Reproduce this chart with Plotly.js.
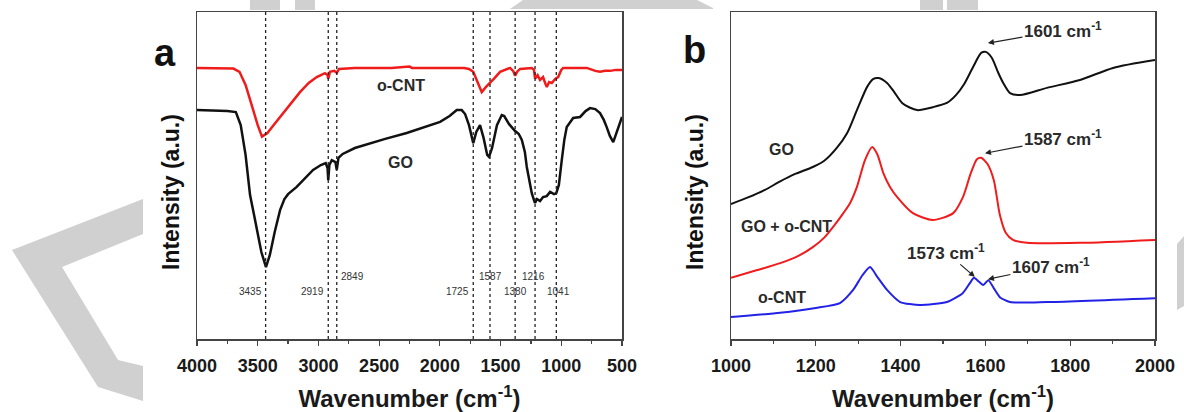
<!DOCTYPE html>
<html><head><meta charset="utf-8">
<script src="https://cdn.plot.ly/plotly-3.0.1.min.js"></script>
<style>html,body{margin:0;padding:0;background:#fff;}#chart{width:1184px;height:412px;}</style>
</head><body><div id="chart"></div>
<script>
// ---------- Panel a: FTIR ----------
const ftirWn_oCNT = [4000,3800,3700,3650,3600,3550,3500,3465,3420,3370,3292,3220,3152,3080,3014,2946,2925,2919,2905,2870,2849,2830,2700,2400,2250,2230,2000,1800,1760,1725,1690,1655,1620,1587,1550,1504,1460,1422,1395,1380,1360,1339,1243,1225,1216,1195,1175,1150,1130,1119,1100,1078,1050,1026,1000,985,900,790,720,681,640,598,550,500];
const ftirInt_oCNT = [82.9,82.9,82.7,81.7,77.7,71.6,65.4,61.9,63.0,65.4,69.1,72.5,75.5,78.3,80.1,81.3,80.7,79.6,81.7,82.0,81.4,82.6,82.9,82.9,83.3,82.9,82.9,82.9,82.6,81.7,78.6,75.5,77.1,78.3,79.8,81.7,82.3,82.9,81.9,80.5,81.9,82.6,82.9,82.3,79.6,80.7,79.2,80.1,78.0,77.1,78.6,78.3,79.5,80.1,82.3,82.9,82.9,82.9,82.0,81.7,82.0,82.0,82.3,82.3];
const ftirWn_GO = [4000,3850,3750,3680,3640,3600,3563,3530,3500,3470,3432,3400,3360,3316,3280,3250,3179,3100,3044,2980,2940,2925,2919,2910,2890,2860,2849,2835,2800,2700,2600,2450,2273,2150,1998,1920,1861,1820,1792,1760,1725,1700,1669,1640,1610,1595,1570,1530,1490,1470,1430,1380,1350,1325,1300,1284,1260,1243,1225,1216,1200,1175,1150,1120,1092,1060,1041,1020,996,975,955,902,845,800,763,720,681,650,626,600,572,550,531,500];
const ftirInt_GO = [70.0,69.9,69.7,69.4,65.4,56.3,44.0,37.9,32.7,26.6,22.0,25.7,32.7,39.4,42.8,44.3,46.5,49.5,51.7,53.2,53.8,52.3,48.6,53.2,54.7,54.1,51.7,55.4,56.6,58.4,59.6,61.2,63.0,64.5,66.4,68.2,70.0,70.0,68.8,65.4,59.9,63.3,65.4,61.5,56.3,55.7,58.4,65.4,68.5,68.2,65.7,63.6,62.7,60.9,57.2,52.6,48.0,44.6,42.5,41.6,42.8,42.2,43.4,43.7,45.0,44.3,44.6,47.1,54.7,60.9,64.8,67.6,67.9,69.7,70.6,70.3,69.1,67.0,64.8,62.1,60.2,62.4,64.8,67.9];
const ftirPeaks = [3435,2919,2849,1725,1587,1380,1216,1041];
const ftirPeakLabels = ["3435","2919","2849","1725","1587","1380","1216","1041"];

// ---------- Panel b: Raman ----------
const ramWn_GO = [1000,1040,1080,1116,1150,1193,1220,1250,1274,1297,1321,1335,1348,1368,1385,1405,1439,1476,1509,1530,1550,1571,1590,1601,1615,1630,1642,1658,1682,1745,1823,1901,2000];
const ramInt_GO = [41.3,43.3,45.6,48.2,50.4,52.6,54.5,58.5,63.0,70.0,77.1,79.5,79.8,78.3,75.5,72.0,70.0,70.9,72.2,74.5,78.0,83.2,87.5,87.8,86.0,81.5,78.3,75.2,74.6,76.8,79.2,82.9,85.3];
const ramWn_mix = [1000,1060,1116,1160,1193,1220,1241,1265,1281,1297,1316,1333,1345,1360,1375,1392,1429,1476,1524,1547,1565,1580,1590,1605,1620,1634,1648,1665,1698,1823,2000];
const ramInt_mix = [18.7,21.0,23.2,25.5,28.1,31.0,34.3,38.5,41.6,46.5,54.7,58.7,56.5,50.5,46.5,43.4,38.5,36.4,38.5,43.4,50.5,55.0,55.4,53.5,48.5,38.0,32.5,30.3,29.4,29.4,30.3];
const ramWn_oCNT = [1000,1116,1200,1257,1288,1310,1328,1345,1368,1399,1446,1509,1547,1563,1573,1585,1595,1607,1620,1634,1658,1745,2000];
const ramInt_oCNT = [6.7,8.0,9.5,11.0,15.0,19.5,22.0,19.0,15.0,11.3,10.4,11.3,14.1,17.0,18.7,17.5,16.5,18.0,15.5,12.8,11.3,11.3,12.5];
const ramPeakLabels = ["1601","1587","1573","1607"];

// ---------- layout helpers (pixel -> paper) ----------
const W = 1184, H = 412;
const fx = x => x / W, fy = y => 1 - y / H;
const FONT = "Liberation Sans, Arial, sans-serif";
const TXT = "#1a1a1a";
function poly(pts){ return "M" + pts.map(p => fx(p[0]).toFixed(4) + "," + fy(p[1]).toFixed(4)).join(" L") + " Z"; }

const traces = [
  {x: ftirWn_oCNT, y: ftirInt_oCNT, xaxis:"x", yaxis:"y", mode:"lines", name:"o-CNT", line:{color:"#f01c1c", width:2.5}},
  {x: ftirWn_GO, y: ftirInt_GO, xaxis:"x", yaxis:"y", mode:"lines", name:"GO", line:{color:"#111", width:2.5}},
  {x: ramWn_GO, y: ramInt_GO, xaxis:"x2", yaxis:"y2", mode:"lines", name:"GO", line:{color:"#111", width:2, shape:"spline", smoothing:0.7}},
  {x: ramWn_mix, y: ramInt_mix, xaxis:"x2", yaxis:"y2", mode:"lines", name:"GO + o-CNT", line:{color:"#f01c1c", width:2, shape:"spline", smoothing:0.7}},
  {x: ramWn_oCNT, y: ramInt_oCNT, xaxis:"x2", yaxis:"y2", mode:"lines", name:"o-CNT", line:{color:"#2222e6", width:2, shape:"spline", smoothing:0.6}}
];

const shapes = [];
const grey = "#d0d0d0";
[
  [[12,250],[143,199],[143,234],[62,267],[118,360],[143,366],[143,401],[98,387]],
  [[250,0],[280,0],[280,10],[250,10]],
  [[295,0],[315,0],[315,10],[295,10]],
  [[510,9],[523,0],[697,0],[713,8],[713,9]],
  [[920,0],[943,0],[943,10],[920,10]],
  [[947,0],[978,0],[978,10],[947,10]],
  [[1177,244],[1184,236],[1184,306],[1177,310]]
].forEach(p => shapes.push({type:"path", xref:"paper", yref:"paper", path:poly(p), fillcolor:grey, line:{width:0}, layer:"below"}));
ftirPeaks.forEach(v => shapes.push({type:"line", xref:"x", yref:"y domain", x0:v, x1:v, y0:0, y1:1, line:{color:"#222", width:1.3, dash:"dot"}}));

const annotations = [];
const rowY = {upper:19.0, lower:14.4};
const peakStyle = [
  ["lower","right",-2],["lower","right",-2],["upper","left",2],["lower","right",-2],
  ["upper","center",0],["lower","center",0],["upper","center",-2],["lower","center",2]
];
ftirPeaks.forEach((v,i) => annotations.push({xref:"x", yref:"y", x:v, y:rowY[peakStyle[i][0]], text:ftirPeakLabels[i], showarrow:false, xanchor:peakStyle[i][1], xshift:peakStyle[i][2], font:{family:FONT, size:10, color:"#333"}}));
const lab = (xr,yr,x,y,t,size) => ({xref:xr, yref:yr, x:x, y:y, text:"<b>"+t+"</b>", showarrow:false, font:{family:FONT, size:size||16, color:"#2a2a2a"}});
annotations.push(lab("x","y",2320,77.4,"o-CNT"));
annotations.push(lab("x","y",2328,54.1,"GO"));
annotations.push(lab("x2","y2",1120,57.8,"GO"));
annotations.push(lab("x2","y2",1130,34.3,"GO + o-CNT"));
annotations.push(lab("x2","y2",1120,12.8,"o-CNT"));
const arr = (x,y,ax,ay,t) => ({xref:"x2", yref:"y2", x:x, y:y, ax:ax, ay:ay, text:"<b>"+t+" cm<sup>-1</sup></b>", showarrow:true, arrowhead:2, arrowsize:1, arrowwidth:1.2, arrowcolor:"#222", standoff:0, font:{family:FONT, size:17, color:"#2a2a2a"}});
annotations.push(arr(1606,90.5,75,-13,ramPeakLabels[0]));
annotations.push(arr(1599,56.8,78,-15,ramPeakLabels[1]));
annotations.push(arr(1575,19.0,-29,-25,ramPeakLabels[2]));
annotations.push(arr(1606,18.3,63,-13,ramPeakLabels[3]));
annotations.push({xref:"paper", yref:"paper", x:fx(152), y:fy(30), text:"<b>a</b>", showarrow:false, font:{family:FONT, size:38, color:"#111"}});
annotations.push({xref:"paper", yref:"paper", x:fx(694), y:fy(27), text:"<b>b</b>", showarrow:false, font:{family:FONT, size:38, color:"#111"}});
annotations.push({xref:"paper", yref:"paper", x:fx(156), y:fy(192), text:"<b>Intensity (a.u.)</b>", textangle:-90, showarrow:false, font:{family:FONT, size:23, color:"#111"}});
annotations.push({xref:"paper", yref:"paper", x:fx(695), y:fy(192), text:"<b>Intensity (a.u.)</b>", textangle:-90, showarrow:false, font:{family:FONT, size:23, color:"#111"}});

const axCommon = {showline:true, mirror:true, linecolor:"#444", linewidth:1.5, showgrid:false, zeroline:false};
const yDom = [1-339/H, 1-12/H];
const layout = {
  width:W, height:H, margin:{l:0,r:0,t:0,b:0},
  paper_bgcolor:"#fff", plot_bgcolor:"rgba(0,0,0,0)", showlegend:false,
  font:{family:FONT, color:TXT},
  xaxis: Object.assign({}, axCommon, {domain:[197/W, 622/W], range:[4000,500], anchor:"y",
    tickmode:"linear", tick0:500, dtick:500, ticks:"outside", ticklen:5, tickwidth:1.2, tickcolor:"#444",
    minor:{dtick:250, ticks:"outside", ticklen:3, tickcolor:"#444"}, ticklabelstandoff:5,
    tickfont:{family:FONT, size:18, weight:"bold", color:TXT},
    title:{text:"Wavenumber (cm<sup>-1</sup>)", font:{family:FONT, size:24, weight:"bold", color:TXT}, standoff:18}}),
  yaxis: Object.assign({}, axCommon, {domain:yDom, range:[0,100], anchor:"x", showticklabels:false, ticks:""}),
  xaxis2: Object.assign({}, axCommon, {domain:[731/W, 1155/W], range:[1000,2000], anchor:"y2",
    tickmode:"linear", tick0:1000, dtick:200, ticks:"outside", ticklen:5, tickwidth:1.2, tickcolor:"#444",
    minor:{dtick:100, ticks:"outside", ticklen:3, tickcolor:"#444"}, ticklabelstandoff:5,
    tickfont:{family:FONT, size:18, weight:"bold", color:TXT},
    title:{text:"Wavenumber (cm<sup>-1</sup>)", font:{family:FONT, size:24, weight:"bold", color:TXT}, standoff:18}}),
  yaxis2: Object.assign({}, axCommon, {domain:yDom, range:[0,100], anchor:"x2", showticklabels:false, ticks:""}),
  shapes: shapes, annotations: annotations
};
Plotly.newPlot("chart", traces, layout, {staticPlot:true, displayModeBar:false});
</script></body></html>
